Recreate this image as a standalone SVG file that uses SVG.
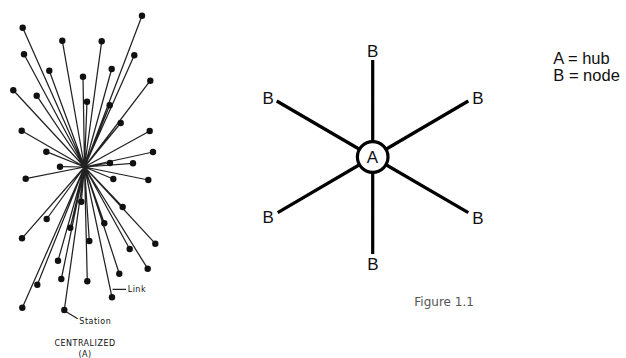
<svg xmlns="http://www.w3.org/2000/svg" width="626" height="358" viewBox="0 0 626 358">
<style>
.lk{stroke:#222;stroke-width:1.25;fill:none}
.st{fill:#111}
.sp{stroke:#000;stroke-width:3.2;fill:none}
.lb{font-family:"Liberation Sans",Arial,sans-serif;fill:#111}
.bn{font-size:17px;text-anchor:middle}
.sm{font-family:"DejaVu Sans",sans-serif;font-size:8px;fill:#111;letter-spacing:0.5px}
</style>
<rect width="626" height="358" fill="#fff"/>
<g id="connectors">
<g id="centralized-links">
<path class="lk" d="M84.5 167L142 15.7M84.5 167L22.7 27.7M84.5 167L62.3 40.7M84.5 167L101.7 41.3M84.5 167L24 54.3M84.5 167L134.3 55.3M84.5 167L49.3 70.7M84.5 167L111.7 69M84.5 167L83 76.7M84.5 167L150.3 80.7M84.5 167L13.3 90.3M84.5 167L36.7 95.7M84.5 167L87 101.7M84.5 167L109.7 105.3M84.5 167L120.7 123M84.5 167L21.7 130.7M84.5 167L149.7 131M84.5 167L46.3 151.7M84.5 167L153 152M84.5 167L60 166.7M84.5 167L110 163M84.5 167L133 163.3M84.5 167L25.7 178.7M84.5 167L113.3 179M84.5 167L148.3 180M84.5 167L81.3 201.7M84.5 167L122.7 207M84.5 167L46.7 219M84.5 167L104.3 223.3M84.5 167L70.3 227.7M84.5 167L22 238.3M84.5 167L89.3 241M84.5 167L155.3 243.7M84.5 167L129.7 249M84.5 167L58 260.7M84.5 167L147.7 268.7M84.5 167L119.3 273.7M84.5 167L61.3 279M84.5 167L87.3 281.3M84.5 167L37.3 284.7M84.5 167L112 297.3M84.5 167L22.3 307.7M84.5 167L64.3 310"/>
<path class="lk" d="M112.6 289.3H126M64 310.5L77.7 318.7" stroke-width="1.4"/>
</g>
<g id="star-links">
<path class="sp" d="M372.7 60V157M372.7 157V254M276.7 101L372.7 157M468.3 101L372.7 157M277.7 212.7L372.7 157M468.3 212.7L372.7 157"/>
</g>
</g>
<g id="stations">
<circle class="st" cx="142" cy="15.7" r="3.2"/><circle class="st" cx="22.7" cy="27.7" r="3.2"/><circle class="st" cx="62.3" cy="40.7" r="3.2"/><circle class="st" cx="101.7" cy="41.3" r="3.2"/><circle class="st" cx="24" cy="54.3" r="3.2"/><circle class="st" cx="134.3" cy="55.3" r="3.2"/><circle class="st" cx="49.3" cy="70.7" r="3.2"/><circle class="st" cx="111.7" cy="69" r="3.2"/><circle class="st" cx="83" cy="76.7" r="3.2"/><circle class="st" cx="150.3" cy="80.7" r="3.2"/><circle class="st" cx="13.3" cy="90.3" r="3.2"/><circle class="st" cx="36.7" cy="95.7" r="3.2"/><circle class="st" cx="87" cy="101.7" r="3.2"/><circle class="st" cx="109.7" cy="105.3" r="3.2"/><circle class="st" cx="120.7" cy="123" r="3.2"/><circle class="st" cx="21.7" cy="130.7" r="3.2"/><circle class="st" cx="149.7" cy="131" r="3.2"/><circle class="st" cx="46.3" cy="151.7" r="3.2"/><circle class="st" cx="153" cy="152" r="3.2"/><circle class="st" cx="60" cy="166.7" r="3.2"/><circle class="st" cx="110" cy="163" r="3.2"/><circle class="st" cx="133" cy="163.3" r="3.2"/><circle class="st" cx="25.7" cy="178.7" r="3.2"/><circle class="st" cx="113.3" cy="179" r="3.2"/><circle class="st" cx="148.3" cy="180" r="3.2"/><circle class="st" cx="81.3" cy="201.7" r="3.2"/><circle class="st" cx="122.7" cy="207" r="3.2"/><circle class="st" cx="46.7" cy="219" r="3.2"/><circle class="st" cx="104.3" cy="223.3" r="3.2"/><circle class="st" cx="70.3" cy="227.7" r="3.2"/><circle class="st" cx="22" cy="238.3" r="3.2"/><circle class="st" cx="89.3" cy="241" r="3.2"/><circle class="st" cx="155.3" cy="243.7" r="3.2"/><circle class="st" cx="129.7" cy="249" r="3.2"/><circle class="st" cx="58" cy="260.7" r="3.2"/><circle class="st" cx="147.7" cy="268.7" r="3.2"/><circle class="st" cx="119.3" cy="273.7" r="3.2"/><circle class="st" cx="61.3" cy="279" r="3.2"/><circle class="st" cx="87.3" cy="281.3" r="3.2"/><circle class="st" cx="37.3" cy="284.7" r="3.2"/><circle class="st" cx="112" cy="297.3" r="3.2"/><circle class="st" cx="22.3" cy="307.7" r="3.2"/><circle class="st" cx="64.3" cy="310" r="3.2"/>
</g>
<g id="centralized-labels">
<text class="sm" x="127.7" y="292.2">Link</text>
<text class="sm" x="79.3" y="323.6">Station</text>
<text class="sm" x="85" y="346.2" text-anchor="middle" font-size="9" letter-spacing="0.3">CENTRALIZED</text>
<text class="sm" x="85" y="357" text-anchor="middle" font-size="9">(A)</text>
</g>
<g id="hub-A">
<circle cx="372.7" cy="157" r="15.3" fill="#fff" stroke="#000" stroke-width="3.2"/>
<text class="lb" x="372.3" y="163.2" font-size="17" text-anchor="middle">A</text>
</g>
<g id="node-top"><text class="lb bn" x="372.7" y="57">B</text></g>
<g id="node-upper-left"><text class="lb bn" x="268.2" y="104.3">B</text></g>
<g id="node-upper-right"><text class="lb bn" x="478" y="104">B</text></g>
<g id="node-lower-left"><text class="lb bn" x="268.2" y="222.8">B</text></g>
<g id="node-lower-right"><text class="lb bn" x="478" y="224.3">B</text></g>
<g id="node-bottom"><text class="lb bn" x="373" y="269.8">B</text></g>
<g id="legend">
<text class="lb" x="553.3" y="64" font-size="16.5">A = hub</text>
<text class="lb" x="553.3" y="81" font-size="16.5">B = node</text>
</g>
<text x="414.3" y="305.7" font-family="DejaVu Sans,sans-serif" font-size="12" fill="#555">Figure 1.1</text>
</svg>
